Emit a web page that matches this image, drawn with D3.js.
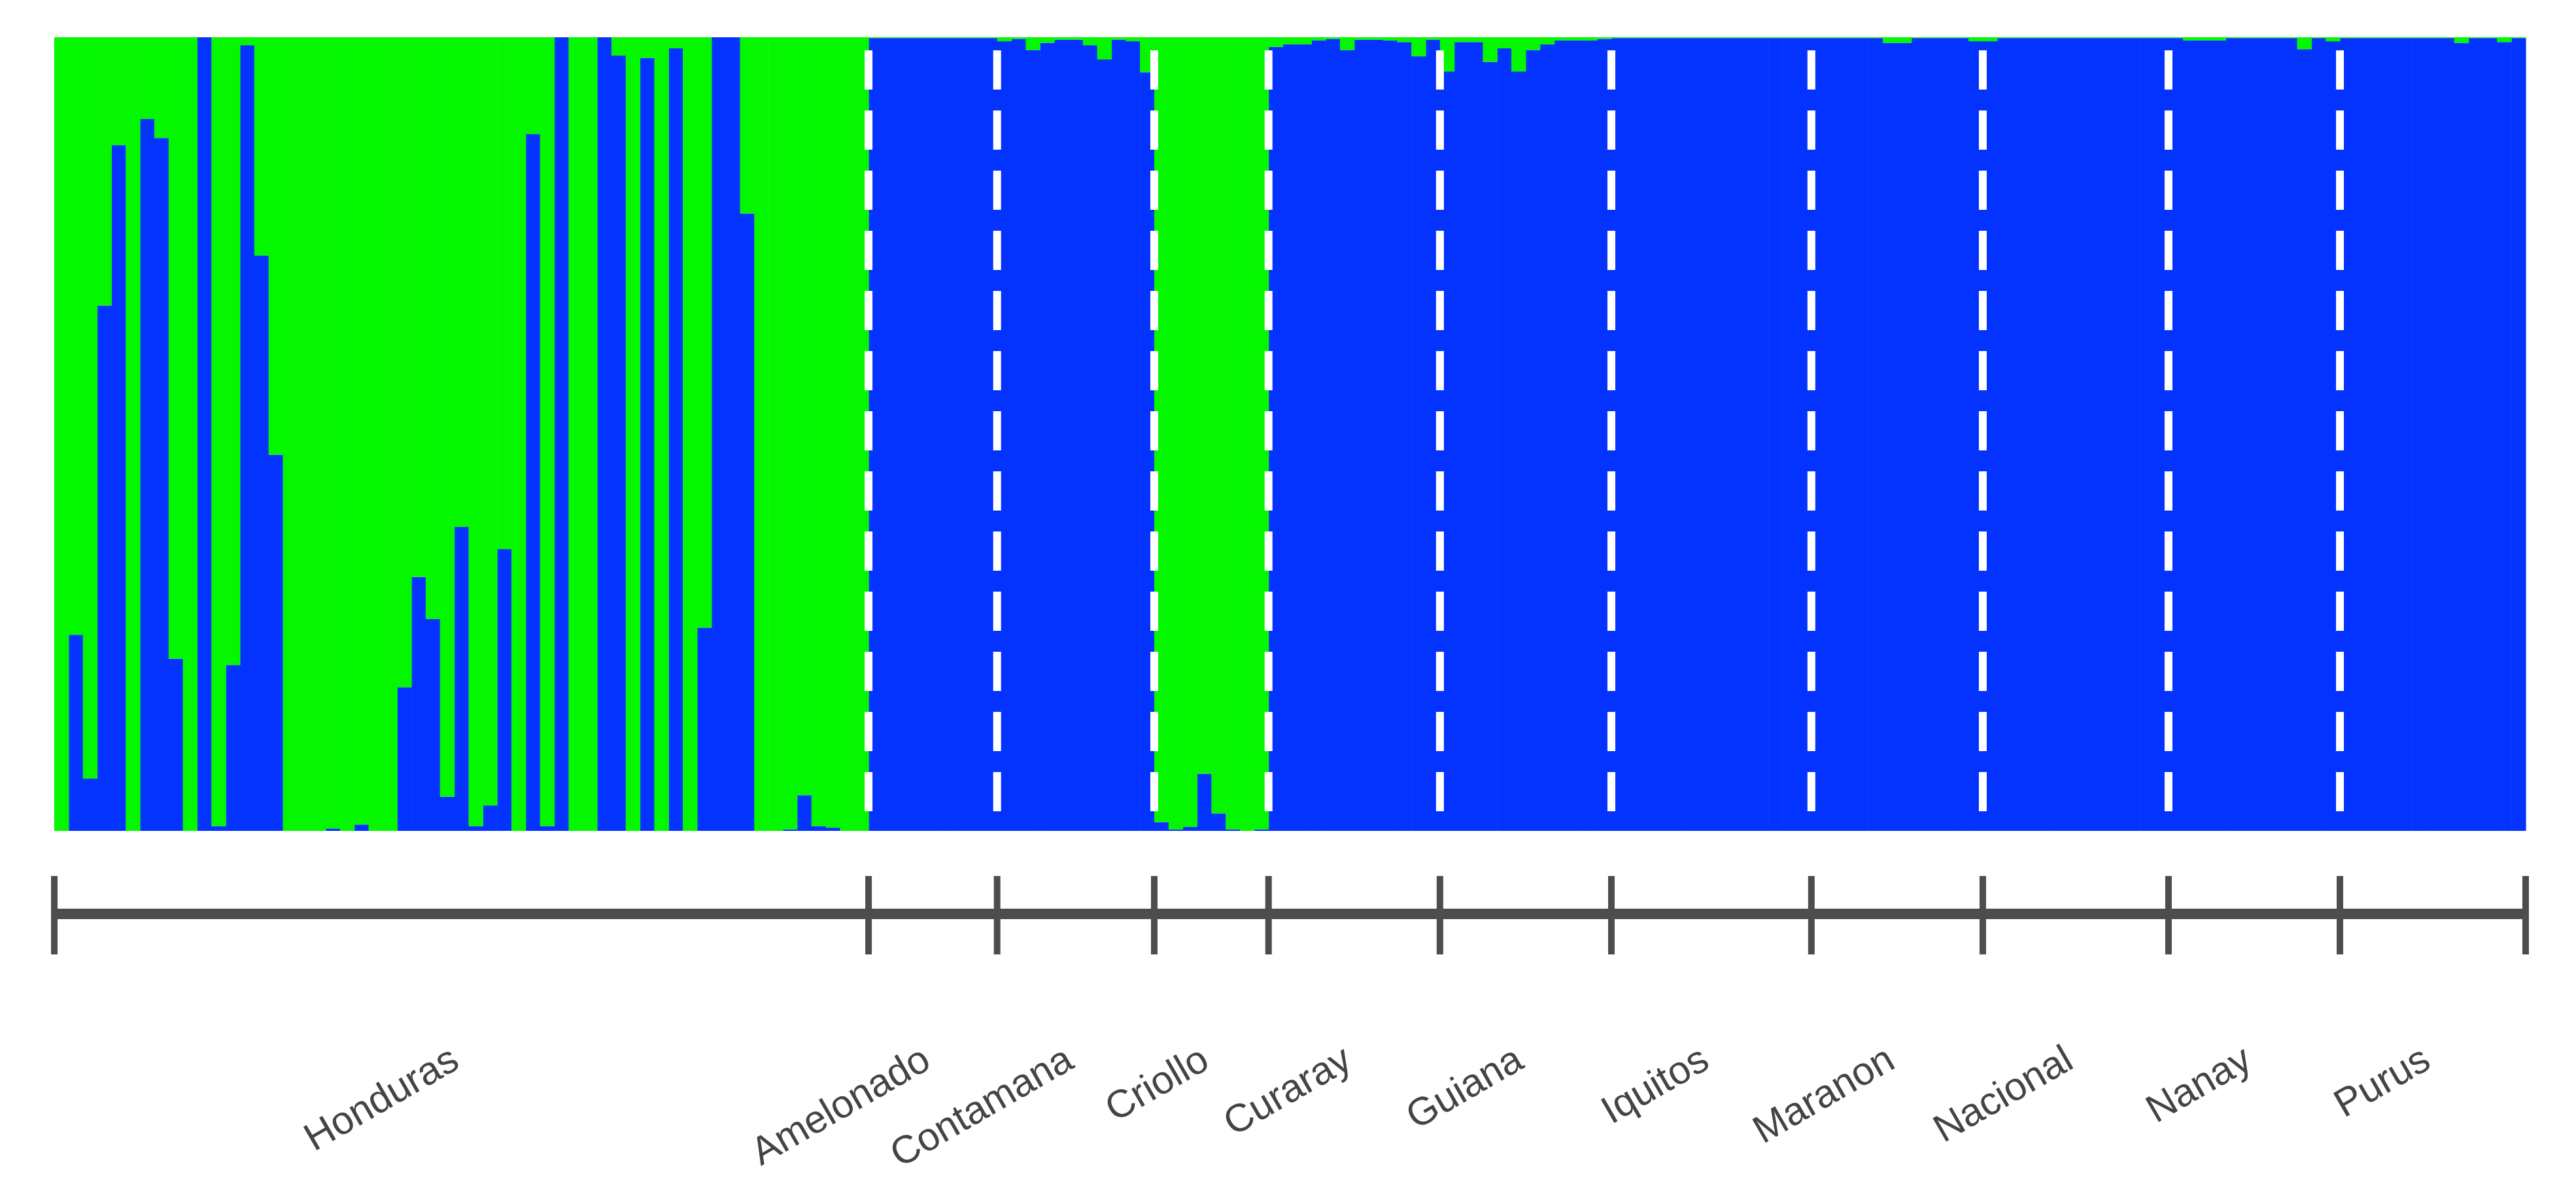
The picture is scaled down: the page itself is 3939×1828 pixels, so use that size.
<!DOCTYPE html>
<html>
<head>
<meta charset="utf-8">
<script src="https://cdn.jsdelivr.net/npm/d3@7"></script>
<style>
  body { margin: 0; background: #fff; }
  svg { display: block; }
</style>
</head>
<body>
<div id="chart"></div>
<script>
// population labels, in plot order
var populations = ["Honduras", "Amelonado", "Contamana", "Criollo", "Curaray", "Guiana",
  "Iquitos", "Maranon", "Nacional", "Nanay", "Purus"];

// ancestry fraction of cluster 1 (blue) per individual; the rest is cluster 2 (green)
var honduras = [0, 0.247, 0.066, 0.662, 0.864, 0, 0.897, 0.873, 0.217, 0, 1.0, 0.006, 0.209, 0.99,
  0.725, 0.474, 0, 0, 0, 0.003, 0, 0.008, 0, 0, 0.181, 0.32, 0.267, 0.043, 0.383, 0.006, 0.032,
  0.355, 0, 0.878, 0.006, 1.0, 0, 0, 1.0, 0.977, 0, 0.974, 0, 0.986, 0, 0.256, 1.0, 1.0, 0.778,
  0, 0, 0.002, 0.045, 0.006, 0.004, 0, 0];
var amelonado = [0.999, 0.999, 0.999, 0.999, 0.999, 0.999, 0.999, 0.999, 0.999];
var contamana = [0.995, 0.998, 0.984, 0.993, 0.997, 0.997, 0.99, 0.972, 0.997, 0.995, 0.956];
var criollo = [0.011, 0.002, 0.005, 0.072, 0.022, 0.002, 0, 0.002];
var curaray = [0.988, 0.991, 0.991, 0.996, 0.998, 0.984, 0.997, 0.997, 0.996, 0.994, 0.976, 0.997];
var guiana = [0.957, 0.994, 0.994, 0.969, 0.986, 0.957, 0.984, 0.991, 0.996, 0.996, 0.996, 0.998];
var iquitos = [0.999, 0.999, 0.999, 0.999, 0.999, 0.999, 0.999, 0.999, 0.999, 0.999, 0.999, 0.999, 0.999, 0.999];
var maranon = [0.999, 0.999, 0.999, 0.999, 0.999, 0.993, 0.993, 0.999, 0.999, 0.999, 0.999, 0.995];
var nacional = [0.995, 0.999, 0.999, 0.999, 0.999, 0.999, 0.999, 0.999, 0.999, 0.999, 0.999, 0.999, 0.999];
var nanay = [0.999, 0.996, 0.996, 0.996, 0.999, 0.999, 0.999, 0.999, 0.999, 0.985, 0.999, 0.995];
var purus = [0.999, 0.999, 0.999, 0.999, 0.999, 0.999, 0.999, 0.999, 0.993, 0.999, 0.999, 0.994, 0.999];

var groups = [honduras, amelonado, contamana, criollo, curaray, guiana, iquitos, maranon, nacional, nanay, purus];

var W = 3939, H = 1828;
var plotLeft = 83, plotRight = 3862, plotTop = 57, plotBottom = 1271;
var axisY = 1398;

// flatten to individuals
var individuals = [];
groups.forEach(function (g, gi) {
  g.forEach(function (q) {
    individuals.push({ id: individuals.length, pop: populations[gi], q1: q, q2: 1 - q });
  });
});

// group boundaries (index of first individual of each group, plus total)
var bounds = [0];
groups.forEach(function (g) { bounds.push(bounds[bounds.length - 1] + g.length); });

var x = d3.scaleLinear().domain([0, individuals.length]).range([plotLeft, plotRight]);
var y = d3.scaleLinear().domain([0, 1]).range([plotBottom, plotTop]);

var svg = d3.select("#chart").append("svg").attr("width", W).attr("height", H);

var layers = d3.stack().keys(["q1", "q2"])(individuals);
var colors = { q1: "#0433ff", q2: "#05f700" };

svg.append("g")
  .selectAll("g")
  .data(layers)
  .enter()
  .append("g")
  .attr("fill", (d) => colors[d.key])
  .selectAll("rect")
  .data((d) => d)
  .enter()
  .append("rect")
  .attr("x", (d) => x(d.data.id))
  .attr("width", x(1) - x(0) + 0.6)
  .attr("y", (d) => y(d[1]))
  .attr("height", (d) => Math.max(0, y(d[0]) - y(d[1])));

// dashed white separators between populations
svg.append("g")
  .selectAll("line")
  .data(bounds.slice(1, -1))
  .enter()
  .append("line")
  .attr("x1", (d) => x(d))
  .attr("x2", (d) => x(d))
  .attr("y1", plotTop)
  .attr("y2", plotBottom)
  .attr("stroke", "#fff")
  .attr("stroke-width", 12)
  .attr("stroke-dasharray", "60,32")
  .attr("stroke-dashoffset", -20);

// bracket axis below the plot
var ax = svg.append("g").attr("stroke", "#4d4d4d");
ax.append("line")
  .attr("x1", x(0)).attr("x2", x(individuals.length))
  .attr("y1", axisY).attr("y2", axisY)
  .attr("stroke-width", 16);
ax.selectAll("line.tick")
  .data(bounds)
  .enter()
  .append("line")
  .attr("class", "tick")
  .attr("x1", (d) => x(d)).attr("x2", (d) => x(d))
  .attr("y1", 1340).attr("y2", 1460)
  .attr("stroke-width", 10);

// population labels, rotated, ending at group centre
svg.append("g")
  .selectAll("text")
  .data(populations)
  .enter()
  .append("text")
  .attr("transform", (d, i) => "translate(" + x((bounds[i] + bounds[i + 1]) / 2) + ",1632) rotate(-30)")
  .attr("text-anchor", "end")
  .attr("font-family", "Liberation Sans, Arial, sans-serif")
  .attr("font-size", 60)
  .attr("fill", "#444")
  .text((d) => d);
</script>
</body>
</html>
